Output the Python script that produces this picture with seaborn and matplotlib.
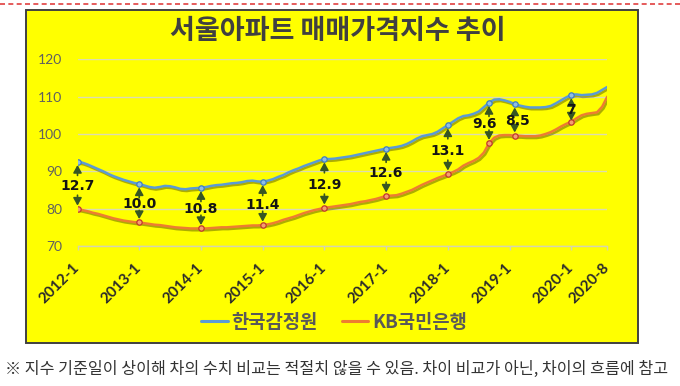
import numpy as np
import pandas as pd
import matplotlib
matplotlib.use("Agg")
import matplotlib.pyplot as plt
import matplotlib.patheffects as pe
from matplotlib.patches import Rectangle
from matplotlib.lines import Line2D
from matplotlib.font_manager import FontProperties
import seaborn as sns

# ---------------- data ----------------
months = [f"{y}-{m}" for y in range(2012, 2021) for m in range(1, 13)][:104]

reb = [
    92.6, 92.3, 91.8, 91.2, 90.6, 90.0, 89.3, 88.7, 88.2, 87.7, 87.3, 86.9,   # 2012
    86.6, 86.2, 85.8, 85.6, 85.8, 86.1, 86.0, 85.7, 85.3, 85.2, 85.4, 85.5,   # 2013
    85.6, 85.8, 86.1, 86.3, 86.4, 86.6, 86.8, 86.9, 87.1, 87.4, 87.5, 87.3,   # 2014
    87.2, 87.5, 87.9, 88.5, 89.0, 89.7, 90.3, 90.8, 91.4, 91.9, 92.4, 92.9,   # 2015
    93.3, 93.3, 93.4, 93.6, 93.8, 94.0, 94.3, 94.6, 94.9, 95.2, 95.5, 95.8,   # 2016
    96.1, 96.3, 96.5, 96.8, 97.3, 98.0, 98.8, 99.4, 99.7, 100.0, 100.6, 101.5,  # 2017
    102.4, 103.3, 104.2, 104.8, 105.0, 105.4, 106.0, 107.2, 108.4, 109.2, 109.3, 109.0,  # 2018
    108.6, 108.0, 107.6, 107.3, 107.1, 107.1, 107.1, 107.2, 107.5, 108.2, 109.0, 109.8,  # 2019
    110.5, 110.6, 110.4, 110.5, 110.6, 111.0, 111.8, 112.6,                     # 2020
]
kb = [
    79.9, 79.6, 79.3, 78.9, 78.6, 78.2, 77.8, 77.4, 77.1, 76.8, 76.6, 76.4,
    76.3, 76.1, 75.9, 75.7, 75.6, 75.4, 75.2, 75.0, 74.9, 74.8, 74.7, 74.7,
    74.7, 74.7, 74.8, 74.9, 75.0, 75.0, 75.1, 75.2, 75.3, 75.4, 75.5, 75.5,
    75.6, 75.8, 76.1, 76.5, 77.0, 77.4, 77.8, 78.3, 78.8, 79.2, 79.6, 79.9,
    80.2, 80.4, 80.6, 80.8, 81.0, 81.2, 81.5, 81.8, 82.0, 82.3, 82.6, 83.0,
    83.4, 83.5, 83.6, 84.0, 84.5, 85.0, 85.7, 86.4, 87.0, 87.6, 88.2, 88.7,
    89.3, 89.8, 90.5, 91.5, 92.2, 92.8, 93.6, 95.0, 97.5, 99.0, 99.6, 99.7,
    99.7, 99.5, 99.5, 99.4, 99.4, 99.4, 99.6, 100.0, 100.5, 101.2, 102.0, 102.7,
    103.3, 104.2, 105.0, 105.4, 105.6, 105.8, 107.3, 110.0,
]

series_names = ["한국감정원", "KB국민은행"]
tick_labels = ["2012-1", "2013-1", "2014-1", "2015-1", "2016-1", "2017-1",
               "2018-1", "2019-1", "2020-1", "2020-8"]
gap_months = ["2012-1", "2013-1", "2014-1", "2015-1", "2016-1", "2017-1",
              "2018-1", "2018-9", "2019-2", "2020-1"]
gap_text = ["12.7", "10.0", "10.8", "11.4", "12.9", "12.6", "13.1", "9.6", "8.5", "7"]

title = "서울아파트 매매가격지수 추이"
footnote = "※ 지수 기준일이 상이해 차의 수치 비교는 적절치 않을 수 있음. 차이 비교가 아닌, 차이의 흐름에 참고"

# ---------------- frame ----------------
t = np.arange(len(months))
df = pd.DataFrame({
    "t": np.concatenate([t, t]),
    "value": reb + kb,
    "series": [series_names[0]] * len(t) + [series_names[1]] * len(t),
})

BLUE = "#5b9bd5"
ORANGE = "#ed7d31"
palette = {series_names[0]: BLUE, series_names[1]: ORANGE}

sns.set_style("white")
plt.rcParams["font.family"] = ["DejaVu Sans"]

W, H = 680, 386
fig = plt.figure(figsize=(W / 100, H / 100), dpi=100)
fig.patch.set_facecolor("white")

# yellow panel
fig.add_artist(Rectangle((26 / W, 1 - 343 / H), (638 - 26) / W, (343 - 10) / H,
                         transform=fig.transFigure, facecolor="#ffff00",
                         edgecolor="#404040", lw=1.4, zorder=0))
# top dashed red line
fig.add_artist(Line2D([0, 1], [1 - 3.5 / H] * 2, transform=fig.transFigure,
                      color="#e04040", lw=1.2, ls=(0, (3, 2))))

ax = fig.add_axes([77.5 / W, 1 - 246 / H, (607.3 - 77.5) / W, (246 - 59.3) / H])
ax.set_facecolor("none")

shadow = [pe.SimpleLineShadow(offset=(1.0, -1.3), shadow_color="#4a4a00", alpha=0.45),
          pe.Normal()]
sns.lineplot(data=df, x="t", y="value", hue="series", palette=palette,
             linewidth=1.8, ax=ax, legend=False, path_effects=shadow, zorder=3)

gidx = [months.index(m) for m in gap_months]
mk_df = df[df["t"].isin(gidx)]
sns.scatterplot(data=mk_df[mk_df["series"] == series_names[0]], x="t", y="value",
                color="#8fbde6", edgecolor="#3f7fbf", s=15, linewidth=0.9, ax=ax,
                legend=False, zorder=4)
sns.scatterplot(data=mk_df[mk_df["series"] == series_names[1]], x="t", y="value",
                color="#f4a070", edgecolor="#c0392b", s=15, linewidth=0.9, ax=ax,
                legend=False, zorder=4)

# gap annotations
ARROW = "#375623"
for k, (i, lab) in enumerate(zip(gidx, gap_text)):
    hi, lo = reb[i], kb[i]
    narrow = hi - lo < 8
    ty = lo + 3.0 if narrow else (hi + lo) / 2 - 0.3
    # nudge labels apart when two markers are close together
    dx = 0
    if k + 1 < len(gidx) and gidx[k + 1] - i < 8:
        dx = -3
    elif k > 0 and i - gidx[k - 1] < 8:
        dx = 2
    ax.annotate(lab, xy=(i, ty), xytext=(dx, 0), textcoords="offset points",
                ha="center", va="center", fontsize=10, fontweight="bold",
                color="#141414", zorder=6)
    tip_u = hi - 0.9
    tail_u = max(ty + 1.6, tip_u - 2.8)
    tip_d = lo + (0.3 if narrow else 0.9)
    tail_d = min(ty - 1.6, tip_d + 2.8)
    ap = dict(arrowstyle="-|>,head_length=0.45,head_width=0.25", color=ARROW,
              lw=1.2, shrinkA=0, shrinkB=0)
    ax.annotate("", xy=(i, tip_u), xytext=(i, min(tail_u, tip_u - 0.6)), arrowprops=ap, zorder=5)
    ax.annotate("", xy=(i, tip_d), xytext=(i, max(tail_d, tip_d + 0.6)), arrowprops=ap, zorder=5)

# axes styling
ax.set_xlim(0, len(months) - 1)
ax.set_ylim(70, 120)
ax.set_yticks([70, 80, 90, 100, 110, 120])
ax.yaxis.grid(True, color="#dcdcb0", lw=1.0)
ax.xaxis.grid(False)
for s in ["top", "right", "left"]:
    ax.spines[s].set_visible(False)
ax.spines["bottom"].set_color("#d4d4b0")
ax.spines["bottom"].set_linewidth(1.0)
ax.set_xlabel("")
ax.set_ylabel("")

ax.set_xticks([months.index(m) for m in tick_labels])
ax.set_xticklabels(tick_labels, rotation=45, ha="right", va="center",
                   rotation_mode="anchor", fontsize=11, fontweight="bold",
                   color="#2b2b2b", family="Lato")
ax.tick_params(axis="x", length=3, width=1, color="#d4d4b0", pad=11, bottom=True)
ax.tick_params(axis="y", length=0, pad=11, labelsize=10, labelcolor="#606060")
for lbl in ax.get_yticklabels():
    lbl.set_family("Lato")

# title
fig.text(338 / W, 1 - 31 / H, title, ha="center", va="center", fontsize=19.5,
         fontweight="bold", color="#404040", family="Noto Sans CJK KR")

# legend
handles = [Line2D([], [], color=BLUE, lw=2.2), Line2D([], [], color=ORANGE, lw=2.2)]
fig.legend(handles, series_names, loc="center", bbox_to_anchor=(334 / W, 1 - 322 / H),
           ncol=2, frameon=False, handlelength=1.4, handletextpad=0.2,
           columnspacing=1.3, labelcolor="#595959",
           prop=FontProperties(family="Noto Sans CJK KR", weight="bold", size=13.5))

# footnote
fig.text(5 / W, 1 - 369 / H, footnote, ha="left", va="center", fontsize=11.6,
         color="#333333", family=["Noto Sans CJK KR", "DejaVu Sans"])

fig.savefig("out.png", dpi=100)
